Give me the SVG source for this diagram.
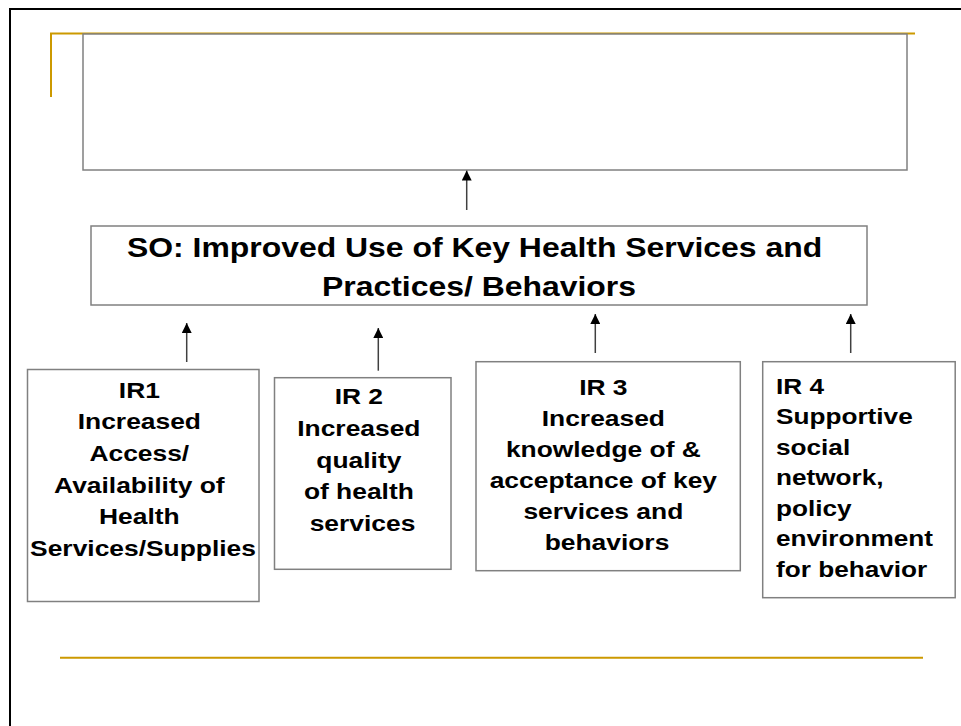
<svg xmlns="http://www.w3.org/2000/svg" width="961" height="726" viewBox="0 0 961 726">
<defs>
<style>
.box{fill:#ffffff;stroke:#808080;stroke-width:1.5}
.ir{font-family:"Liberation Sans",Arial,sans-serif;font-weight:bold;font-size:22px;fill:#000}
.so{font-family:"Liberation Sans",Arial,sans-serif;font-weight:bold;font-size:28px;fill:#000}
.gold{stroke:#CC9900;stroke-width:2;fill:none}
.conn{stroke:#404040;stroke-width:1.5;fill:none}
</style>
<marker id="arr" viewBox="0 0 10 10" refX="10" refY="5" markerWidth="10" markerHeight="10" markerUnits="userSpaceOnUse" orient="auto">
<path d="M0,0 L10,5 L0,10 z" fill="#000"/>
</marker>
</defs>
<rect width="961" height="726" fill="#ffffff"/>
<path d="M10,726 V9 H961" fill="none" stroke="#000" stroke-width="2"/>
<path class="gold" d="M51,97 V33.5 H915"/>
<line class="gold" x1="60" y1="657.7" x2="923" y2="657.7"/>

<g id="top-box">
<rect class="box" x="83" y="34" width="824" height="136"/>
</g>

<g id="so">
<rect class="box" x="91" y="226" width="776" height="79"/>
<text class="so" text-anchor="middle" transform="translate(479,0) scale(1.14,1)">
<tspan x="0" y="257.5">SO: Improved Use of Key Health Services and</tspan>
<tspan x="0" y="296">Practices/ Behaviors</tspan>
</text>
</g>

<g id="ir1">
<rect class="box" x="27.5" y="369.5" width="231.5" height="232"/>
<text class="ir" text-anchor="middle" transform="translate(143,0) scale(1.2,1)">
<tspan x="0" y="397.7">IR1</tspan>
<tspan x="0" y="429.4">Increased</tspan>
<tspan x="0" y="461">Access/</tspan>
<tspan x="0" y="492.8">Availability of</tspan>
<tspan x="0" y="524.5">Health</tspan>
<tspan x="0" y="556.2">Services/Supplies</tspan>
</text>
</g>

<g id="ir2">
<rect class="box" x="274.5" y="377.7" width="176.5" height="191.6"/>
<text class="ir" text-anchor="middle" transform="translate(362.5,0) scale(1.2,1)">
<tspan x="0" y="404.3">IR 2</tspan>
<tspan x="0" y="436">Increased</tspan>
<tspan x="0" y="467.8">quality</tspan>
<tspan x="0" y="499.5">of health</tspan>
<tspan x="0" y="531.3">services</tspan>
</text>
</g>

<g id="ir3">
<rect class="box" x="476" y="361.7" width="264.3" height="209"/>
<text class="ir" text-anchor="middle" transform="translate(607,0) scale(1.2,1)">
<tspan x="0" y="395.3">IR 3</tspan>
<tspan x="0" y="426.3">Increased</tspan>
<tspan x="0" y="457.3">knowledge of &amp;</tspan>
<tspan x="0" y="488.3">acceptance of key</tspan>
<tspan x="0" y="519.3">services and</tspan>
<tspan x="0" y="550.3">behaviors</tspan>
</text>
</g>

<g id="ir4">
<rect class="box" x="762.7" y="361.7" width="192.5" height="236"/>
<text class="ir" transform="translate(776,0) scale(1.19,1)">
<tspan x="0" y="394">IR 4</tspan>
<tspan x="0" y="424.5">Supportive</tspan>
<tspan x="0" y="455">social</tspan>
<tspan x="0" y="485.5">network,</tspan>
<tspan x="0" y="516">policy</tspan>
<tspan x="0" y="546.5">environment</tspan>
<tspan x="0" y="577">for behavior</tspan>
</text>
</g>

<g id="connectors">
<line class="conn" x1="466.7" y1="210" x2="466.7" y2="170.5" marker-end="url(#arr)"/>
<line class="conn" x1="186.7" y1="362" x2="186.7" y2="323" marker-end="url(#arr)"/>
<line class="conn" x1="378.3" y1="370.7" x2="378.3" y2="328" marker-end="url(#arr)"/>
<line class="conn" x1="595.3" y1="353" x2="595.3" y2="314" marker-end="url(#arr)"/>
<line class="conn" x1="850.7" y1="353" x2="850.7" y2="314" marker-end="url(#arr)"/>
</g>
</svg>
